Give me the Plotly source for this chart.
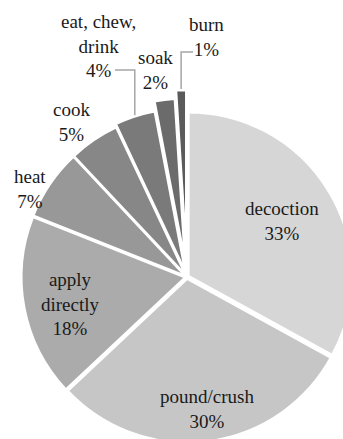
import math
import plotly.graph_objects as go

# Preparation methods and their share of reported uses (%)
methods = ["decoction", "pound/crush", "apply directly", "heat", "cook",
           "eat, chew, drink", "soak", "burn"]
shares = [33, 30, 18, 7, 5, 4, 2, 1]
# Line-broken versions of the names used on the slice labels
label_lines = ["decoction", "pound/crush", "apply<br>directly", "heat", "cook",
               "eat, chew,<br>drink", "soak", "burn"]

greys = ["#d6d6d6", "#c6c6c6", "#ababab", "#989898", "#878787",
         "#7a7a7a", "#6b6b6b", "#5a5a5a"]
pulls = [0.01, 0.01, 0.01, 0.01, 0.01, 0.03, 0.09, 0.14]

# Canvas and pie placement (pixels)
W, H = 374, 470
CX, CY = 187, 277
dom_top = 2 * (1 - CY / H)
R = min(W, 2 * (H - CY)) / 2 / (1 + max(pulls))   # radius plotly will use

# Label block centres (pixels)
label_pos = [(282, 221), (207, 409), (70, 304), (30, 189), (71, 122),
             (98, 46), (155, 70), (206, 37)]
FONT = dict(family="'Liberation Serif', 'Times New Roman', Times, serif",
            size=19, color="#1a1a1a")


def px(x, y):
    return x / W, 1 - y / H


fig = go.Figure(go.Pie(
    labels=methods,
    values=shares,
    textinfo="none",
    sort=False,
    direction="clockwise",
    rotation=0,
    pull=pulls,
    automargin=False,
    marker=dict(colors=greys, line=dict(color="white", width=2.5)),
    domain=dict(x=[0, 1], y=[0, dom_top]),
    hoverinfo="skip",
    showlegend=False,
))

# slice labels
for name, val, (lx, ly) in zip(label_lines, shares, label_pos):
    ax, ay = px(lx, ly)
    fig.add_annotation(
        x=ax, y=ay, xref="paper", yref="paper",
        text=f"{name}<br>{val}%", showarrow=False,
        xanchor="center", yanchor="middle", align="center",
        font=FONT,
    )


def slice_tip(i):
    """Outer mid-point of slice i, pull included (pixels)."""
    total = sum(shares)
    start = sum(shares[:i]) / total * 360
    mid = math.radians(start + shares[i] / total * 180)
    dist = R * (1 + pulls[i])
    return CX + dist * math.sin(mid), CY - dist * math.cos(mid)


# elbow leader lines: up from the slice, then across to its label
leaders = {5: (70, 115), 7: (52, 193)}   # slice index -> (elbow y, end x)
shapes = []
for i, (ey, ex) in leaders.items():
    tx, ty = slice_tip(i)
    p0, p1, p2 = px(tx, ty - 1), px(tx, ey), px(ex, ey)
    shapes.append(dict(
        type="path", xref="paper", yref="paper",
        path=f"M {p0[0]},{p0[1]} L {p1[0]},{p1[1]} L {p2[0]},{p2[1]}",
        line=dict(color="#a6a6a6", width=1.5),
    ))

fig.update_layout(
    width=W, height=H,
    autosize=False,
    margin=dict(l=0, r=0, t=0, b=0, autoexpand=False),
    paper_bgcolor="white",
    plot_bgcolor="white",
    shapes=shapes,
)

fig.write_html("out.html")
